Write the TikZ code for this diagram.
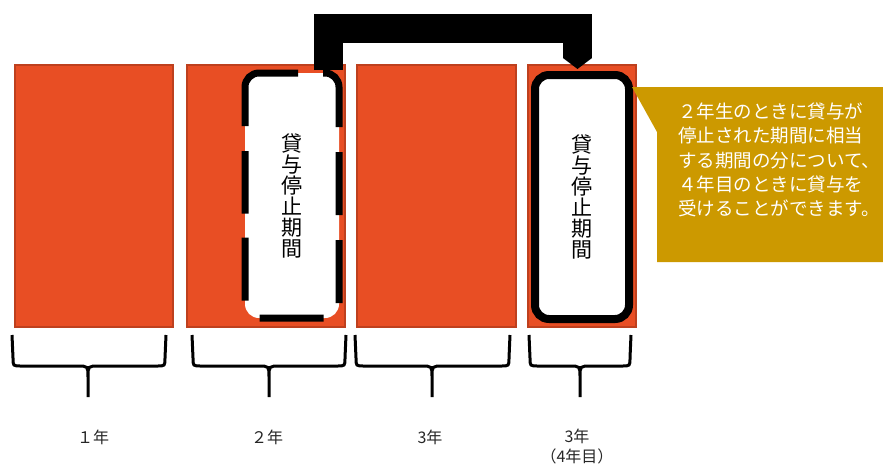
\documentclass[tikz,border=0pt]{standalone}
\usepackage{fontspec}
\setmainfont{Noto Sans CJK JP}
\usetikzlibrary{arrows.meta,calc}
\definecolor{termred}{RGB}{232,78,36}
\definecolor{termedge}{RGB}{190,64,30}
\definecolor{notegold}{RGB}{204,153,0}

\begin{document}
\begin{tikzpicture}[x=1pt, y=-1pt,
    year/.style={draw=termedge, line width=2pt, fill=termred, inner sep=0pt, minimum height=262pt},
    period/.style={fill=white, rounded corners=14pt, inner sep=0pt, outer sep=0pt, minimum width=94pt, align=center, font=\fontsize{21}{21}\selectfont},
    brace/.style={line width=3pt},
    yearname/.style={font=\fontsize{16}{20}\selectfont, align=center, text=black!85}]

  \useasboundingbox (0,0) rectangle (883,466);

  \node[year, minimum width=158pt] (y1) at (94,196) {};
  \node[year, minimum width=158pt] (y2) at (266,196) {};
  \node[year, minimum width=159pt] (y3) at (436.5,196) {};
  \node[year, minimum width=108pt] (y4) at (582,196) {};

  % moved period
  \coordinate (from) at (328.5,70);
  \coordinate (to) at (577.5,69);
  \draw[line width=29pt, -{Triangle[width=29pt, length=11pt, line width=0pt]}] (from) -- ++(0,-41.5) -| (to);

  \node[period, minimum height=245pt] (stop) at (292,195.5) {貸\\与\\停\\止\\期\\間};
  \draw[line width=7pt, rounded corners=14pt,
        dash pattern=on 63pt off 25pt on 100pt off 25pt on 64pt off 25pt on 63pt off 25pt on 63pt off 24pt on 64pt off 26pt on 63pt off 24pt,
        dash phase=32.5pt]
    (stop.west) -- (stop.north west) -- (stop.north east) -- (stop.south east) -- (stop.south west) -- cycle;
  \node[period, draw, line width=8pt, minimum height=244pt] (pay) at (582,197) {貸\\与\\停\\止\\期\\間};

  % note
  \fill[notegold] (632,87) -- (883,87) -- (883,262) -- (657,262) -- (657,132) -- cycle;
  \node[anchor=west, inner sep=0pt, align=left, text=white, font=\fontsize{18.5}{24.2}\selectfont] (note) at (678,160)
    {２年生のときに貸与が\\停止された期間に相当\\する期間の分について、\\４年目のときに貸与を\\受けることができます。};

  % braces
  \draw[brace] (12,335) -- (13,358) .. controls (13,366) .. (21,366) -- (77,366) .. controls (88,366) .. (88,377) -- (88,397)
    (166,335) -- (165,358) .. controls (165,366) .. (157,366) -- (99,366) .. controls (88,366) .. (88,377);
  \draw[brace] (192,335) -- (193,358) .. controls (193,366) .. (201,366) -- (258,366) .. controls (269,366) .. (269,377) -- (269,397)
    (346,335) -- (345,358) .. controls (345,366) .. (337,366) -- (280,366) .. controls (269,366) .. (269,377);
  \draw[brace] (355,335) -- (356,358) .. controls (356,366) .. (364,366) -- (421,366) .. controls (432,366) .. (432,377) -- (432,397)
    (510,335) -- (509,358) .. controls (509,366) .. (501,366) -- (443,366) .. controls (432,366) .. (432,377);
  \draw[brace] (529,335) -- (530,358) .. controls (530,366) .. (538,366) -- (569,366) .. controls (580,366) .. (580,377) -- (580,397)
    (631,335) -- (630,358) .. controls (630,366) .. (622,366) -- (591,366) .. controls (580,366) .. (580,377);

  \node[yearname] (n1) at (93,437) {１年};
  \node[yearname] (n2) at (267,437) {２年};
  \node[yearname] (n3) at (430,437) {3年};
  \node[yearname] (n4) at (577,447) {3年\\（4年目）};
\end{tikzpicture}
\end{document}
